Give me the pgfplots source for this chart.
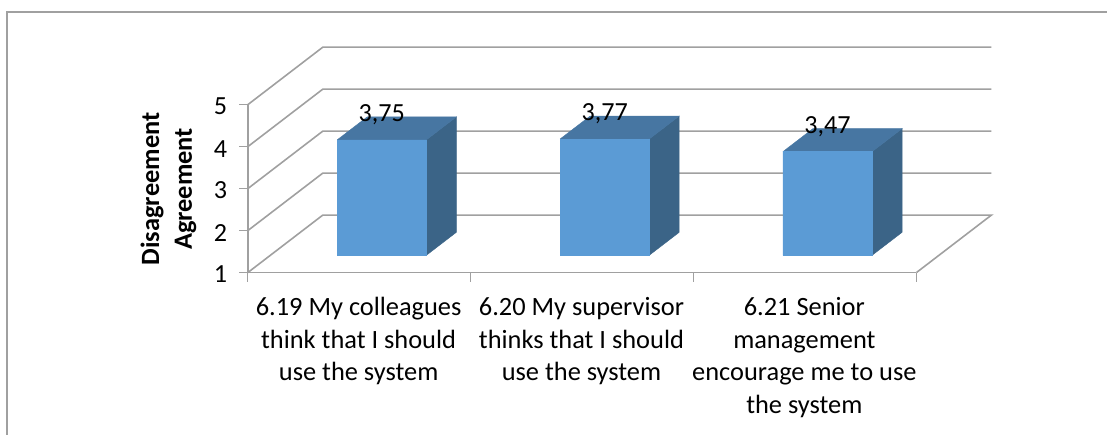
\documentclass[border=0pt]{standalone}
\usepackage{pgfplots}
\pgfplotsset{compat=1.18}
\usepackage{fontspec}
\setmainfont{Carlito}
\definecolor{gl}{HTML}{A0A0A0}
\definecolor{fr}{HTML}{5B9BD5}
\definecolor{tp}{HTML}{4776A2}
\definecolor{sd}{HTML}{3B6487}
\begin{document}
\begin{tikzpicture}
\begin{axis}[
  x={(167.25pt,0pt)}, y={(56.25pt,43.125pt)}, z={(0pt,31.5pt)},
  xmin=0,xmax=3,ymin=0,ymax=1,zmin=1,zmax=5,
  clip=false,
  axis x line*=bottom, axis y line=none, axis z line*=left,
  axis line style={gl,line width=1.2pt,-},
  xtick={0.5,1.5,2.5},
  xticklabels={{6.19 My colleagues\\think that I should\\use the system},
               {6.20 My supervisor\\thinks that I should\\use the system},
               {6.21 Senior\\management\\encourage me to use\\the system}},
  ytick=\empty,
  ztick={1,2,3,4,5},
  major tick length=0pt,
  x tick label style={align=center,anchor=north,font=\fontsize{19.8}{24.4}\selectfont,yshift=-15.2pt,xshift=-0.5pt},
  z tick label style={anchor=east,font=\fontsize{19.6}{22}\selectfont,xshift=-12pt,yshift=-1.5pt},
  /pgf/number format/assume math mode=true,
  every node near coord/.append style={font=\fontsize{19.6}{22}\selectfont,anchor=center,yshift=19pt,
     /pgf/number format/fixed,/pgf/number format/fixed zerofill,/pgf/number format/precision=2,/pgf/number format/use comma,
     /pgf/number format/assume math mode=true},
]
% chart frame and bounding box
\path (axis cs:-1.1121,0,7.493) rectangle (axis cs:3.8565,0,-2.864);
\addplot3[gl,line width=1pt] coordinates {(-1.0807,0,-2.864)(-1.0807,0,7.207)(3.8565,0,7.207)};
% walls
\addplot3[gl,line width=1.2pt] coordinates {(0,0,1)(0,1,1)(3,1,1)(3,0,1)};
\addplot3[gl,line width=1.2pt] coordinates {(0,0,2)(0,1,2)(3,1,2)};
\addplot3[gl,line width=1.2pt] coordinates {(0,0,3)(0,1,3)(3,1,3)};
\addplot3[gl,line width=1.2pt] coordinates {(0,0,4)(0,1,4)(3,1,4)};
\addplot3[gl,line width=1.2pt] coordinates {(0,0,5)(0,1,5)(3,1,5)};
% ticks
\addplot3[gl,line width=0.8pt] coordinates {(0,0,1)(0,0,0.786)};
\addplot3[gl,line width=0.8pt] coordinates {(1,0,1)(1,0,0.786)};
\addplot3[gl,line width=0.8pt] coordinates {(2,0,1)(2,0,0.786)};
\addplot3[gl,line width=0.8pt] coordinates {(3,0,1)(3,0,0.786)};
\addplot3[gl,line width=0.8pt] coordinates {(0,0,1)(-0.04,0,1)};
\addplot3[gl,line width=0.8pt] coordinates {(0,0,2)(-0.04,0,2)};
\addplot3[gl,line width=0.8pt] coordinates {(0,0,3)(-0.04,0,3)};
\addplot3[gl,line width=0.8pt] coordinates {(0,0,4)(-0.04,0,4)};
\addplot3[gl,line width=0.8pt] coordinates {(0,0,5)(-0.04,0,5)};
% bar 1: 3.75
\addplot3[fill=sd,draw=sd,line width=0.3pt] coordinates {(0.7,0.3,1)(0.7,0.7,1)(0.7,0.7,3.75)(0.7,0.3,3.75)(0.7,0.3,1)};
\addplot3[fill=tp,draw=tp,line width=0.3pt] coordinates {(0.3,0.3,3.75)(0.7,0.3,3.75)(0.7,0.7,3.75)(0.3,0.7,3.75)(0.3,0.3,3.75)};
\addplot3[fill=fr,draw=fr,line width=0.3pt] coordinates {(0.3,0.3,1)(0.7,0.3,1)(0.7,0.3,3.75)(0.3,0.3,3.75)(0.3,0.3,1)};
% bar 2: 3.77
\addplot3[fill=sd,draw=sd,line width=0.3pt] coordinates {(1.7,0.3,1)(1.7,0.7,1)(1.7,0.7,3.77)(1.7,0.3,3.77)(1.7,0.3,1)};
\addplot3[fill=tp,draw=tp,line width=0.3pt] coordinates {(1.3,0.3,3.77)(1.7,0.3,3.77)(1.7,0.7,3.77)(1.3,0.7,3.77)(1.3,0.3,3.77)};
\addplot3[fill=fr,draw=fr,line width=0.3pt] coordinates {(1.3,0.3,1)(1.7,0.3,1)(1.7,0.3,3.77)(1.3,0.3,3.77)(1.3,0.3,1)};
% bar 3: 3.47
\addplot3[fill=sd,draw=sd,line width=0.3pt] coordinates {(2.7,0.3,1)(2.7,0.7,1)(2.7,0.7,3.47)(2.7,0.3,3.47)(2.7,0.3,1)};
\addplot3[fill=tp,draw=tp,line width=0.3pt] coordinates {(2.3,0.3,3.47)(2.7,0.3,3.47)(2.7,0.7,3.47)(2.3,0.7,3.47)(2.3,0.3,3.47)};
\addplot3[fill=fr,draw=fr,line width=0.3pt] coordinates {(2.3,0.3,1)(2.7,0.3,1)(2.7,0.3,3.47)(2.3,0.3,3.47)(2.3,0.3,1)};
% value labels
\addplot3[draw=none,mark=none,point meta=z,nodes near coords] coordinates {(0.5,0.3,3.75)(1.5,0.3,3.77)(2.5,0.3,3.47)};
% axis title
\node[rotate=90,align=center,font=\bfseries\fontsize{19.8}{24.6}\selectfont] at (axis cs:-0.3565,0,2.993) {Disagreement\\Agreement};
\end{axis}
\end{tikzpicture}
\end{document}
